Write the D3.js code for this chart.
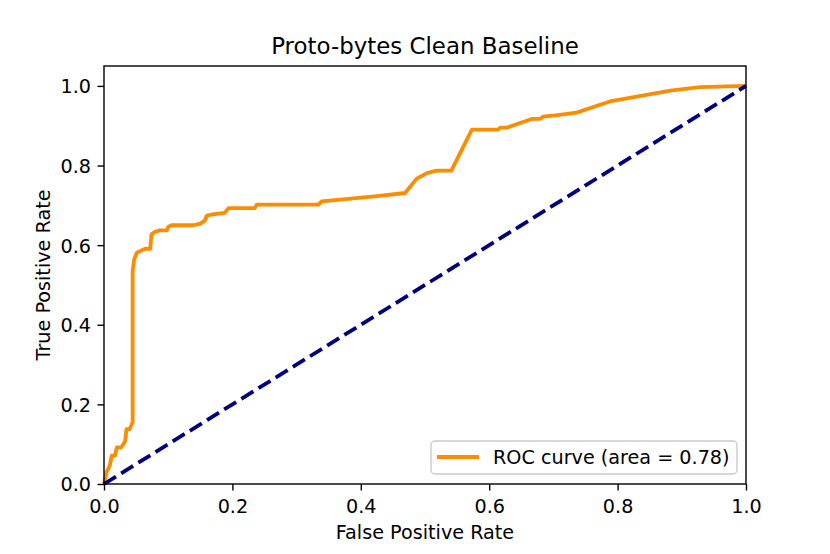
<!DOCTYPE html>
<html><head><meta charset="utf-8">
<script src="https://cdn.jsdelivr.net/npm/d3@7"></script>
<style>body{margin:0;background:#fff}svg{display:block}text{font-family:"DejaVu Sans",sans-serif;fill:#000}</style>
</head><body><svg id="c" width="830" height="554"></svg>
<script>
const fpr = [0,0.004,0.009,0.012,0.017,0.02,0.027,0.033,0.035,0.04,0.0446,0.0446,0.047,0.051,0.056,0.064,0.072,0.074,0.079,0.087,0.098,0.1,0.105,0.139,0.15,0.157,0.16,0.168,0.178,0.188,0.194,0.235,0.238,0.305,0.334,0.339,0.425,0.469,0.487,0.503,0.518,0.541,0.573,0.614,0.617,0.627,0.666,0.679,0.684,0.697,0.736,0.788,0.882,0.928,1];
const tpr = [0,0.03,0.046,0.071,0.071,0.092,0.092,0.108,0.138,0.138,0.155,0.535,0.564,0.581,0.585,0.591,0.591,0.627,0.633,0.637,0.637,0.646,0.65,0.65,0.654,0.662,0.674,0.677,0.679,0.681,0.693,0.693,0.702,0.702,0.702,0.71,0.723,0.731,0.767,0.781,0.787,0.787,0.89,0.89,0.895,0.895,0.917,0.917,0.923,0.925,0.933,0.961,0.988,0.997,1];
const chanceX = [0,1];
const chanceY = [0,1];
const xTicks = [0,0.2,0.4,0.6,0.8,1.0];
const yTicks = [0,0.2,0.4,0.6,0.8,1.0];
const title = "Proto-bytes Clean Baseline";
const xLabel = "False Positive Rate";
const yLabel = "True Positive Rate";
const legendLabel = "ROC curve (area = 0.78)";

const svg = d3.select("#c");
const L=104,R=746,T=66,B=484;
const x = d3.scaleLinear().domain([0,1]).range([L,R]);
const y = d3.scaleLinear().domain([0,1.05]).range([B,T]);

const line = d3.line().x(d=>x(d[0])).y(d=>y(d[1]));
svg.append("path").datum(fpr.map((f,i)=>[f,tpr[i]]))
  .attr("d",line).attr("fill","none").attr("stroke","#ff8c00").attr("stroke-width",3.8).attr("stroke-linejoin","round").attr("stroke-linecap","butt");
svg.append("path").datum(chanceX.map((f,i)=>[f,chanceY[i]]))
  .attr("d",line).attr("fill","none").attr("stroke","#000080").attr("stroke-width",3.8).attr("stroke-dasharray","14.1,6.1");

const fmt = d3.format(".1f");
const xa = svg.append("g").attr("transform",`translate(0,${B})`)
  .call(d3.axisBottom(x).tickValues(xTicks).tickFormat(fmt).tickSize(6.5).tickSizeOuter(0));
const ya = svg.append("g").attr("transform",`translate(${L},0)`)
  .call(d3.axisLeft(y).tickValues(yTicks).tickFormat(fmt).tickSize(6.5).tickSizeOuter(0));
[xa,ya].forEach(g=>{g.select(".domain").remove();g.selectAll("line").attr("stroke","#000").attr("stroke-width",1.4);g.selectAll("text").style("font-size","19.2px").style("font-family","DejaVu Sans");});
xa.selectAll("text").attr("dy",null).attr("y",29);
ya.selectAll("text").attr("x",-13).attr("dy","0.36em");

svg.append("rect").attr("x",L).attr("y",T).attr("width",R-L).attr("height",B-T)
  .attr("fill","none").attr("stroke","#000").attr("stroke-width",1.4);

svg.append("text").attr("x",(L+R)/2).attr("y",54).attr("text-anchor","middle").style("font-size","22.9px").text(title);
svg.append("text").attr("x",(L+R)/2).attr("y",539).attr("text-anchor","middle").style("font-size","19.2px").text(xLabel);
svg.append("text").attr("transform",`translate(50,${(T+B)/2}) rotate(-90)`).attr("text-anchor","middle").style("font-size","19.2px").text(yLabel);

const lg = svg.append("g");
lg.append("rect").attr("x",431).attr("y",441).attr("width",306).attr("height",33).attr("rx",4)
  .attr("fill","#fff").attr("fill-opacity",0.8).attr("stroke","#cccccc").attr("stroke-width",1.4);
lg.append("line").attr("x1",437).attr("x2",479).attr("y1",457).attr("y2",457).attr("stroke","#ff8c00").attr("stroke-width",3.8);
lg.append("text").attr("x",493).attr("y",464).style("font-size","19.2px").text(legendLabel);
</script></body></html>
